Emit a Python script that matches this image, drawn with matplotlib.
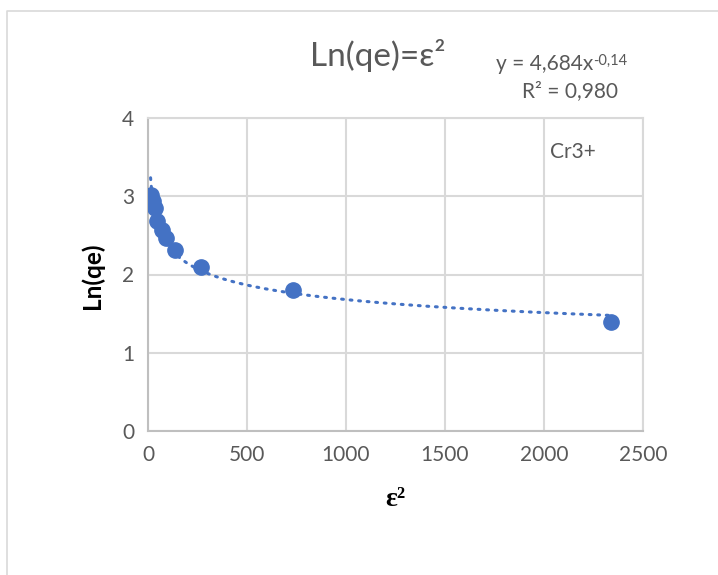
import numpy as np
import matplotlib
matplotlib.use("Agg")
import matplotlib.pyplot as plt
from matplotlib.lines import Line2D

# epsilon^2 vs Ln(qe) for Cr3+ (D-R isotherm)
eps2 = [13, 23, 35, 46, 70, 93, 135, 267, 731, 2337]
ln_qe = [3.02, 2.94, 2.85, 2.68, 2.57, 2.47, 2.315, 2.10, 1.80, 1.39]

x_ticks = [0, 500, 1000, 1500, 2000, 2500]
y_ticks = [0, 1, 2, 3, 4]

BLUE = "#4472C4"
GRAY_TXT = "#595959"
GRID = "#d9d9d9"

plt.rcParams["font.family"] = ["Lato", "DejaVu Sans"]

W, H = 718, 575
fig = plt.figure(figsize=(W / 100, H / 100), dpi=100)
ax = fig.add_axes([148 / W, 1 - 431 / H, (643 - 148) / W, (431 - 118) / H])

# power trendline fitted in log-log space
b, log_a = np.polyfit(np.log(eps2), np.log(ln_qe), 1)
xt = np.linspace(eps2[0], eps2[-1], 400)
ax.plot(xt, np.exp(log_a) * xt ** b, color=BLUE, lw=2.2, ls=(0, (0.6, 2.2)),
        dash_capstyle="round", zorder=2)
ax.plot(eps2, ln_qe, "o", color=BLUE, ms=11, mec=BLUE, zorder=3)

ax.set_xlim(0, 2500)
ax.set_ylim(0, 4)
ax.set_xticks(x_ticks)
ax.set_yticks(y_ticks)
ax.tick_params(length=0, labelsize=15, colors=GRAY_TXT, pad=10)
ax.grid(True, color=GRID, lw=1.5)
ax.set_axisbelow(True)
for s in ax.spines.values():
    s.set_color(GRID)
    s.set_linewidth(1.5)
ax.spines["left"].set_color("#bfbfbf")
ax.spines["bottom"].set_color("#bfbfbf")

fig.text(92 / W, 1 - 276 / H, "Ln(qe)", fontsize=17.5, fontweight="bold",
         rotation=90, ha="center", va="center")
fig.text(395 / W, 1 - 500 / H, "ε²", fontsize=20, fontweight="bold",
         family="Liberation Serif", ha="center", va="center")

fig.text(378 / W, 1 - 56 / H, "Ln(qe)=ε²", fontsize=24, color=GRAY_TXT,
         ha="center", va="center")
# trendline equation, exponent hung off the top-right of the base text
eq = fig.text(496 / W, 1 - 64 / H, "y = 4,684x", fontsize=15, color=GRAY_TXT,
              ha="left", va="center")
ax.annotate("-0,14", xy=(1, 1.02), xycoords=eq, fontsize=10.5, color=GRAY_TXT,
            ha="left", va="top", annotation_clip=False)
fig.text(570 / W, 1 - 91 / H, "R² = 0,980", fontsize=15, color=GRAY_TXT,
         ha="center", va="center")
fig.text(573 / W, 1 - 152 / H, "Cr3+", fontsize=15, color=GRAY_TXT,
         ha="center", va="center")

# chart frame
fig.add_artist(Line2D([7 / W, 7 / W, 1], [0, 1 - 11 / H, 1 - 11 / H],
                      transform=fig.transFigure, color="#d9d9d9", lw=1.2))

fig.savefig("out.png", dpi=100)
